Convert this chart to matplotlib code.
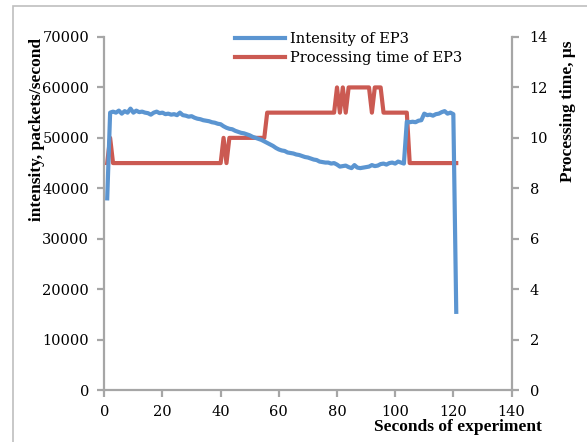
import matplotlib.pyplot as plt
from matplotlib.patches import Rectangle

seconds = list(range(1, 122))

# intensity of EP3, packets/second
intensity = [
    38000, 55000, 55200, 55000, 55400, 54800, 55300, 55000, 55800, 55000,
    55400, 55100, 55200, 55000, 54900, 54600, 55000, 55200, 54900, 55000,
    54700, 54800, 54600, 54700, 54500, 55000, 54500, 54400, 54200, 54300,
    54000, 53800, 53700, 53500, 53400, 53300, 53100, 53000, 52800, 52700,
    52300, 52000, 51800, 51700, 51400, 51200, 51000, 50900, 50700, 50500,
    50200, 50000, 49800, 49600, 49300, 49000, 48700, 48400, 48000, 47700,
    47500, 47400, 47100, 47000, 46900, 46700, 46600, 46400, 46200, 46100,
    45900, 45700, 45600, 45300, 45200, 45100, 45100, 44900, 45000, 44700,
    44300, 44400, 44500, 44200, 44000, 44600, 44100, 44000, 44100, 44200,
    44300, 44600, 44400, 44500, 44800, 44900, 44700, 45000, 45100, 44900,
    45300, 45100, 44900, 53200, 53100, 53200, 53100, 53400, 53500, 54800,
    54500, 54600, 54400, 54700, 54800, 55100, 55300, 54800, 55000, 54700,
    15500,
]

# processing time of EP3, microseconds
proc_time = (
    [9, 10] + [9] * 38 + [10, 9] + [10] * 13 + [11] * 24
    + [12, 11, 12, 11] + [12] * 8 + [11] + [12] * 3 + [11] * 9 + [9] * 17
)

blue = "#5b95d1"
red = "#cb5a52"
grey = "#a6a6a6"

plt.rcParams['font.family'] = 'DejaVu Serif'
title_font = dict(family='Liberation Serif', fontsize=12.5, fontweight='bold')

fig = plt.figure(figsize=(5.87, 4.42), dpi=100)
ax = fig.add_axes([0.1777, 0.1176, 0.6937, 0.7987])
ax2 = ax.twinx()

l1, = ax.plot(seconds, intensity, color=blue, lw=3, label="Intensity of EP3", zorder=3)
l2, = ax2.plot(seconds, proc_time, color=red, lw=3, label="Processing time of EP3")

ax.set_xlim(0, 140)
ax.set_ylim(0, 70000)
ax.set_xticks(range(0, 141, 20))
ax.set_yticks(range(0, 70001, 10000))
ax2.set_ylim(0, 14)
ax2.set_yticks(range(0, 15, 2))

# blue line above red line
ax.set_zorder(ax2.get_zorder() + 1)
ax.patch.set_visible(False)

for a in (ax, ax2):
    a.spines['top'].set_visible(False)
    for s in ('left', 'right', 'bottom'):
        a.spines[s].set_color(grey)
        a.spines[s].set_linewidth(1.6)
    a.tick_params(colors=grey, labelcolor='black', labelsize=10.5, width=1.6, length=5)
ax.spines['right'].set_visible(False)
ax2.spines['left'].set_visible(False)
ax2.spines['bottom'].set_visible(False)
ax.tick_params(axis='x', pad=6)
ax.tick_params(axis='y', pad=6)
ax2.tick_params(axis='y', pad=8)

ax.set_ylabel("intensity, packets/second", **title_font)
ax.yaxis.set_label_coords(-0.146, 0.737)
ax2.set_ylabel("Processing time, \u03bcs", **title_font)
ax2.yaxis.set_label_coords(1.119, 0.79)
fig.text(458 / 587, 1 - 427 / 442, "Seconds of experiment", ha='center', va='center',
         **title_font)

fig.legend(handles=[l1, l2], loc='upper left', bbox_to_anchor=(235 / 587, 1 - 32 / 442),
           frameon=False, fontsize=10.5, handlelength=3.4, handletextpad=0.35,
           borderpad=0, borderaxespad=0, labelspacing=0.35)

# chart border
fig.patches.append(Rectangle((13 / 587, -0.1), 1.2, 1 - 6 / 442 + 0.1,
                             transform=fig.transFigure, fill=False,
                             edgecolor="#bfbfbf", lw=1.2))

fig.savefig("out.png", dpi=100)
